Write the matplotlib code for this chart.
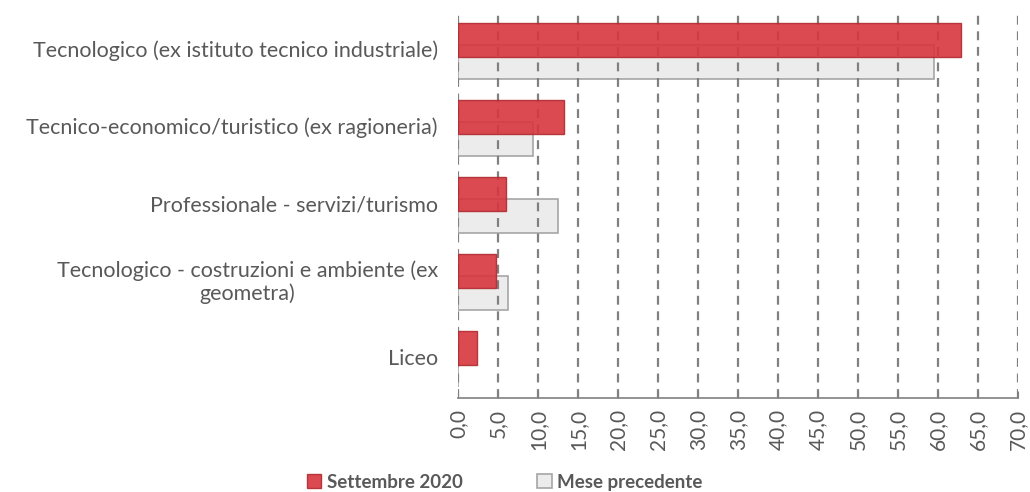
import numpy as np
import matplotlib.pyplot as plt
from matplotlib.transforms import offset_copy

categories = [
    "Tecnologico (ex istituto tecnico industriale)",
    "Tecnico-economico/turistico (ex ragioneria)",
    "Professionale - servizi/turismo",
    "Tecnologico - costruzioni e ambiente (ex\ngeometra)",
    "Liceo",
]
settembre_2020 = [62.9, 13.3, 6.0, 4.8, 2.4]
mese_precedente = [59.5, 9.4, 12.5, 6.2, 0.0]
xticks = np.arange(0, 75, 5)
xtick_labels = [f"{v:.1f}".replace(".", ",") for v in xticks]

plt.rcParams['font.family'] = ['Lato', 'DejaVu Sans']
txt = "#595959"

fig = plt.figure(figsize=(10.3, 4.92), dpi=100)
ax = fig.add_axes([458/1030, 1 - 398/492, 560/1030, 386/492])

y = np.arange(len(categories))
h = 0.44
off = 0.143

ax.barh(y + off, mese_precedente, height=h, color="#ececec", edgecolor="#a6a6a6",
        linewidth=1.2, zorder=2, label="Mese precedente")
ax.barh(y - off, settembre_2020, height=h, color="#d7363d", edgecolor="#b02a30",
        linewidth=1.0, alpha=0.9, zorder=3, label="Settembre 2020")

ax.set_xlim(0, 70)
ax.set_ylim(len(categories) - 0.5, -0.5)
ax.set_xticks(xticks)
ax.set_xticklabels(xtick_labels, rotation=90, color=txt, fontsize=15)
ax.set_yticks(y)
ax.set_yticklabels([])

# category labels drawn as text so the wrapped one can be centred
lab_tr = offset_copy(ax.get_yaxis_transform(), fig=fig, x=-20, y=0, units="dots")
for yi, cat in zip(y, categories):
    ax.text(0, yi, cat, transform=lab_tr, ha="right", va="center",
            multialignment="center", color=txt, fontsize=15.5)

ax.grid(axis="x", color="#808080", linestyle=(0, (4, 3)), linewidth=1.6, zorder=1)
ax.set_axisbelow(False)
for s in ["left", "right", "top"]:
    ax.spines[s].set_visible(False)
ax.spines["bottom"].set_color("#808080")
ax.spines["bottom"].set_linewidth(1.2)
ax.tick_params(axis="x", direction="in", length=5, color="#808080", pad=8)
ax.tick_params(axis="y", length=0)

handles, labels = ax.get_legend_handles_labels()
leg = fig.legend(handles[::-1], labels[::-1], loc="lower center", ncol=2,
                 bbox_to_anchor=(0.49, -0.032), frameon=False,
                 prop={"weight": "bold", "size": 13.5}, handlelength=0.75,
                 handleheight=0.75, columnspacing=4.0, handletextpad=0.3)
for t in leg.get_texts():
    t.set_color(txt)

fig.savefig("out.png", dpi=100)
